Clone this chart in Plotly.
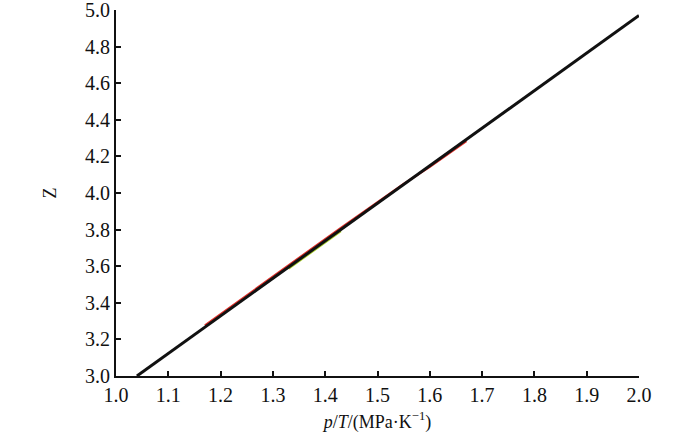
import plotly.graph_objects as go

# data
fit_x = [1.04, 2.0]
fit_z = [3.0, 4.97]
red_x = [1.17, 1.25, 1.35, 1.43, 1.55, 1.60, 1.67]
red_z = [3.276, 3.440, 3.646, 3.810, 4.05, 4.143, 4.283]
green_x = [1.33, 1.38, 1.43]
green_z = [3.587, 3.688, 3.792]
x_ticks = [1.0, 1.1, 1.2, 1.3, 1.4, 1.5, 1.6, 1.7, 1.8, 1.9, 2.0]
y_ticks = [3.0, 3.2, 3.4, 3.6, 3.8, 4.0, 4.2, 4.4, 4.6, 4.8, 5.0]

font = "Liberation Serif"

fig = go.Figure()
fig.add_trace(go.Scatter(x=red_x, y=red_z, mode="lines",
                         line=dict(color="#e0302a", width=2.2), showlegend=False))
fig.add_trace(go.Scatter(x=green_x, y=green_z, mode="lines",
                         line=dict(color="#a8d02a", width=2.2), showlegend=False))
fig.add_trace(go.Scatter(x=fit_x, y=fit_z, mode="lines",
                         line=dict(color="#111111", width=3), showlegend=False))

fig.update_layout(
    width=700, height=446,
    margin=dict(l=116, r=61, t=10, b=70),
    paper_bgcolor="white", plot_bgcolor="white",
    font=dict(family=font, size=20, color="#111111"),
    xaxis=dict(range=[1.0, 2.0], tickvals=x_ticks,
               ticktext=[f"{v:.1f}" for v in x_ticks],
               showgrid=False, zeroline=False, showline=True, automargin=False,
               ticklabeloverflow="allow",
               linecolor="#111111", linewidth=2,
               ticks="inside", ticklen=5, tickwidth=2, tickcolor="#111111",
               title=dict(text="<i>p</i>/<i>T</i>/(MPa·K<sup>−1</sup>)",
                          font=dict(size=18), standoff=10)),
    yaxis=dict(range=[3.0, 5.0], tickvals=y_ticks,
               ticktext=[f"{v:.1f}" for v in y_ticks],
               showgrid=False, zeroline=False, showline=True, automargin=False,
               ticklabeloverflow="allow",
               linecolor="#111111", linewidth=2,
               ticks="inside", ticklen=5, tickwidth=2, tickcolor="#111111",
               title=dict(text="Z", font=dict(size=18), standoff=24)),
)

fig.write_html("out.html",
               config={"displayModeBar": False},
               post_script="document.body.style.margin='0';document.body.style.padding='0';")
